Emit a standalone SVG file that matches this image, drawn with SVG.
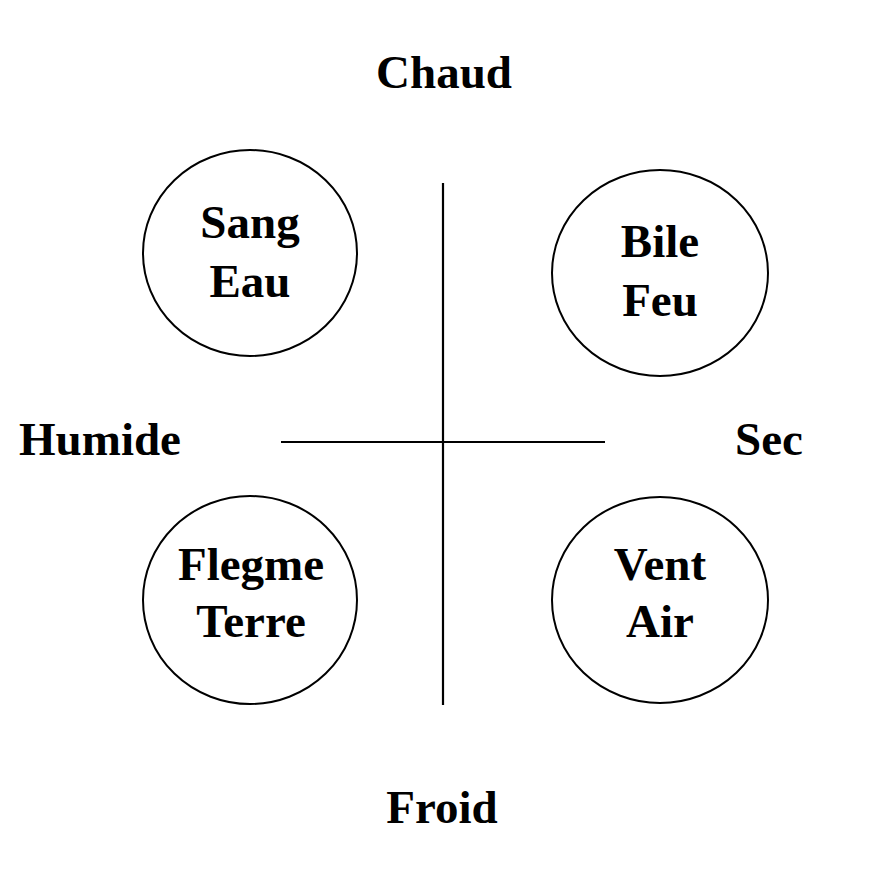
<svg xmlns="http://www.w3.org/2000/svg" width="886" height="886" viewBox="0 0 886 886">
<style>
.t{font-family:"Liberation Serif","Times New Roman",serif;font-weight:bold;font-size:47px;fill:#000;text-anchor:middle}
.c{fill:none;stroke:#000;stroke-width:2}
.l{stroke:#000;stroke-width:2.2}
</style>
<rect width="886" height="886" fill="#fff"/>
<g id="axes">
<line class="l" x1="281" y1="442" x2="605" y2="442"/>
<line class="l" x1="443" y1="183" x2="443" y2="705"/>
</g>
<g id="labels">
<text class="t" x="444" y="88">Chaud</text>
<text class="t" x="442" y="823">Froid</text>
<text class="t" x="100" y="455">Humide</text>
<text class="t" x="769" y="455">Sec</text>
</g>
<g id="sang">
<ellipse class="c" cx="250" cy="253" rx="107" ry="103"/>
<text class="t" x="250" y="238">Sang</text>
<text class="t" x="250" y="297">Eau</text>
</g>
<g id="bile">
<ellipse class="c" cx="660" cy="273" rx="108" ry="103"/>
<text class="t" x="660" y="257">Bile</text>
<text class="t" x="660" y="316">Feu</text>
</g>
<g id="flegme">
<ellipse class="c" cx="250" cy="600" rx="107" ry="104"/>
<text class="t" x="251" y="580">Flegme</text>
<text class="t" x="251" y="637">Terre</text>
</g>
<g id="vent">
<ellipse class="c" cx="660" cy="600" rx="108" ry="103"/>
<text class="t" x="660" y="580">Vent</text>
<text class="t" x="660" y="637">Air</text>
</g>
</svg>
